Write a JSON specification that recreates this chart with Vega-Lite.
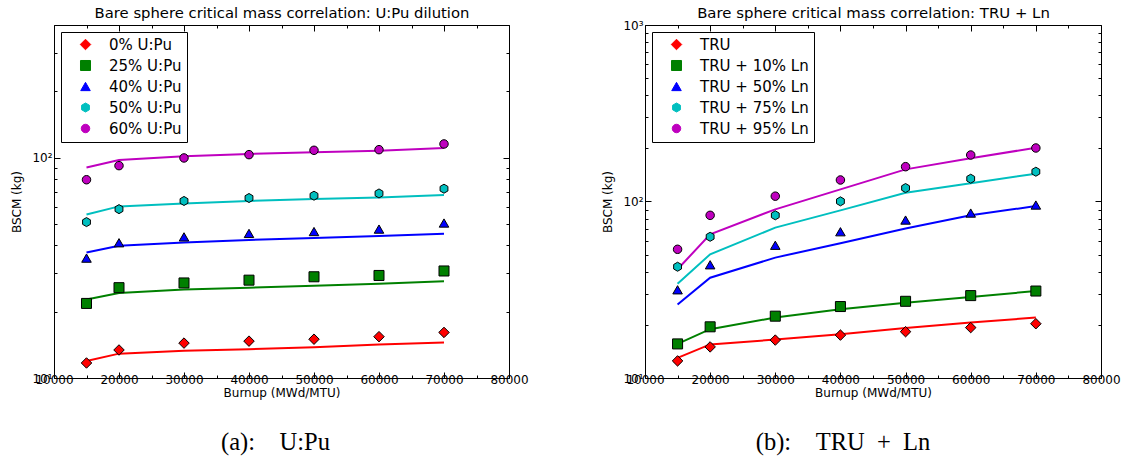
{
  "$schema": "https://vega.github.io/schema/vega-lite/v6.json",
  "background": "white",
  "padding": {"left": 10, "top": 5, "right": 5, "bottom": 5},
  "config": {
    "font": "DejaVu Sans",
    "view": {"stroke": "black", "strokeWidth": 1},
    "axis": {"domain": false, "grid": false, "tickColor": "black", "tickWidth": 1, "labelColor": "black", "titleColor": "black", "labelFont": "DejaVu Sans", "titleFont": "DejaVu Sans", "labelFontSize": 12, "titleFontSize": 12, "titleFontWeight": "normal", "labelFlush": false},
    "legend": {"symbolStrokeColor": "black", "symbolStrokeWidth": 1},
    "title": {"color": "black", "fontWeight": "normal"}
  },
  "datasets": {
    "upu": [
      {"series": "0% U:Pu", "burnup": 15000, "measured": 11.7, "fit": 11.95},
      {"series": "0% U:Pu", "burnup": 20000, "measured": 13.4, "fit": 12.9},
      {"series": "0% U:Pu", "burnup": 30000, "measured": 14.4, "fit": 13.3},
      {"series": "0% U:Pu", "burnup": 40000, "measured": 14.7, "fit": 13.5},
      {"series": "0% U:Pu", "burnup": 50000, "measured": 15.0, "fit": 13.8},
      {"series": "0% U:Pu", "burnup": 60000, "measured": 15.4, "fit": 14.2},
      {"series": "0% U:Pu", "burnup": 70000, "measured": 16.1, "fit": 14.5},
      {"series": "25% U:Pu", "burnup": 15000, "measured": 21.8, "fit": 22.7},
      {"series": "25% U:Pu", "burnup": 20000, "measured": 25.7, "fit": 24.3},
      {"series": "25% U:Pu", "burnup": 30000, "measured": 27.0, "fit": 25.2},
      {"series": "25% U:Pu", "burnup": 40000, "measured": 27.8, "fit": 25.7},
      {"series": "25% U:Pu", "burnup": 50000, "measured": 28.8, "fit": 26.2},
      {"series": "25% U:Pu", "burnup": 60000, "measured": 29.2, "fit": 26.8},
      {"series": "25% U:Pu", "burnup": 70000, "measured": 30.6, "fit": 27.5},
      {"series": "40% U:Pu", "burnup": 15000, "measured": 35.0, "fit": 37.1},
      {"series": "40% U:Pu", "burnup": 20000, "measured": 41.1, "fit": 39.8},
      {"series": "40% U:Pu", "burnup": 30000, "measured": 43.7, "fit": 41.2},
      {"series": "40% U:Pu", "burnup": 40000, "measured": 45.3, "fit": 42.3},
      {"series": "40% U:Pu", "burnup": 50000, "measured": 46.2, "fit": 43.2},
      {"series": "40% U:Pu", "burnup": 60000, "measured": 47.4, "fit": 44.1},
      {"series": "40% U:Pu", "burnup": 70000, "measured": 50.5, "fit": 45.1},
      {"series": "50% U:Pu", "burnup": 15000, "measured": 51.0, "fit": 55.2},
      {"series": "50% U:Pu", "burnup": 20000, "measured": 58.4, "fit": 60.1},
      {"series": "50% U:Pu", "burnup": 30000, "measured": 63.6, "fit": 62.0},
      {"series": "50% U:Pu", "burnup": 40000, "measured": 65.6, "fit": 63.6},
      {"series": "50% U:Pu", "burnup": 50000, "measured": 67.2, "fit": 64.9},
      {"series": "50% U:Pu", "burnup": 60000, "measured": 68.8, "fit": 66.0},
      {"series": "50% U:Pu", "burnup": 70000, "measured": 72.3, "fit": 67.7},
      {"series": "60% U:Pu", "burnup": 15000, "measured": 79.4, "fit": 90.3},
      {"series": "60% U:Pu", "burnup": 20000, "measured": 92.0, "fit": 97.6},
      {"series": "60% U:Pu", "burnup": 30000, "measured": 99.7, "fit": 101.4},
      {"series": "60% U:Pu", "burnup": 40000, "measured": 103.2, "fit": 103.9},
      {"series": "60% U:Pu", "burnup": 50000, "measured": 108.0, "fit": 105.7},
      {"series": "60% U:Pu", "burnup": 60000, "measured": 108.7, "fit": 107.6},
      {"series": "60% U:Pu", "burnup": 70000, "measured": 115.4, "fit": 110.7}
    ],
    "truln": [
      {"series": "TRU", "burnup": 15000, "measured": 12.5, "fit": 13.0},
      {"series": "TRU", "burnup": 20000, "measured": 15.0, "fit": 15.5},
      {"series": "TRU", "burnup": 30000, "measured": 16.4, "fit": 16.5},
      {"series": "TRU", "burnup": 40000, "measured": 17.5, "fit": 17.7},
      {"series": "TRU", "burnup": 50000, "measured": 18.3, "fit": 19.2},
      {"series": "TRU", "burnup": 60000, "measured": 19.3, "fit": 20.6},
      {"series": "TRU", "burnup": 70000, "measured": 20.3, "fit": 22.0},
      {"series": "TRU + 10% Ln", "burnup": 15000, "measured": 15.6, "fit": 15.6},
      {"series": "TRU + 10% Ln", "burnup": 20000, "measured": 19.5, "fit": 18.9},
      {"series": "TRU + 10% Ln", "burnup": 30000, "measured": 22.4, "fit": 22.0},
      {"series": "TRU + 10% Ln", "burnup": 40000, "measured": 25.4, "fit": 24.5},
      {"series": "TRU + 10% Ln", "burnup": 50000, "measured": 27.2, "fit": 26.7},
      {"series": "TRU + 10% Ln", "burnup": 60000, "measured": 29.3, "fit": 28.8},
      {"series": "TRU + 10% Ln", "burnup": 70000, "measured": 31.1, "fit": 31.1},
      {"series": "TRU + 50% Ln", "burnup": 15000, "measured": 31.6, "fit": 26.1},
      {"series": "TRU + 50% Ln", "burnup": 20000, "measured": 43.8, "fit": 37.0},
      {"series": "TRU + 50% Ln", "burnup": 30000, "measured": 56.5, "fit": 48.1},
      {"series": "TRU + 50% Ln", "burnup": 40000, "measured": 67.4, "fit": 58.0},
      {"series": "TRU + 50% Ln", "burnup": 50000, "measured": 78.5, "fit": 70.3},
      {"series": "TRU + 50% Ln", "burnup": 60000, "measured": 86.0, "fit": 83.5},
      {"series": "TRU + 50% Ln", "burnup": 70000, "measured": 95.5, "fit": 94.2},
      {"series": "TRU + 75% Ln", "burnup": 15000, "measured": 42.7, "fit": 34.2},
      {"series": "TRU + 75% Ln", "burnup": 20000, "measured": 63.1, "fit": 50.2},
      {"series": "TRU + 75% Ln", "burnup": 30000, "measured": 83.5, "fit": 71.1},
      {"series": "TRU + 75% Ln", "burnup": 40000, "measured": 100.2, "fit": 89.1},
      {"series": "TRU + 75% Ln", "burnup": 50000, "measured": 119.2, "fit": 112.1},
      {"series": "TRU + 75% Ln", "burnup": 60000, "measured": 134.6, "fit": 126.8},
      {"series": "TRU + 75% Ln", "burnup": 70000, "measured": 147.5, "fit": 143.8},
      {"series": "TRU + 95% Ln", "burnup": 15000, "measured": 53.6, "fit": 41.3},
      {"series": "TRU + 95% Ln", "burnup": 20000, "measured": 83.5, "fit": 65.2},
      {"series": "TRU + 95% Ln", "burnup": 30000, "measured": 107.2, "fit": 90.3},
      {"series": "TRU + 95% Ln", "burnup": 40000, "measured": 132.4, "fit": 117.2},
      {"series": "TRU + 95% Ln", "burnup": 50000, "measured": 157.5, "fit": 152.1},
      {"series": "TRU + 95% Ln", "burnup": 60000, "measured": 183.4, "fit": 175.7},
      {"series": "TRU + 95% Ln", "burnup": 70000, "measured": 201.0, "fit": 201.7}
    ]
  },
  "spacing": 72,
  "resolve": {"scale": {"color": "independent", "shape": "independent", "size": "independent", "x": "independent", "y": "independent"}, "legend": {"color": "independent", "shape": "independent", "size": "independent"}},
  "hconcat": [
    {
      "width": 455,
      "height": 353,
      "data": {"name": "upu"},
      "title": {"text": "(a):\u2003U:Pu", "orient": "bottom", "font": "Liberation Serif", "fontSize": 24.5, "anchor": "middle", "frame": "group", "offset": 33, "dx": -6},
      "resolve": {"axis": {"x": "independent", "y": "independent"}},
      "layer": [
        {
          "mark": {"type": "line", "strokeWidth": 2},
          "encoding": {
            "x": {"field": "burnup", "type": "quantitative", "scale": {"domain": [10000, 80000], "nice": false, "zero": false},
              "axis": {"orient": "bottom", "title": "Burnup (MWd/MTU)", "values": [10000, 15000, 20000, 25000, 30000, 35000, 40000, 45000, 50000, 55000, 60000, 65000, 70000, 75000, 80000], "format": "d", "labelExpr": "datum.value % 10000 === 0 ? datum.label : ''", "tickSize": {"condition": {"test": "datum.value % 10000 === 0", "value": -6}, "value": -3}, "labelPadding": 2, "titlePadding": 2}},
            "y": {"field": "fit", "type": "quantitative", "scale": {"type": "log", "domain": [10, 400], "nice": false},
              "axis": {"orient": "left", "title": "BSCM (kg)", "values": [10, 20, 30, 40, 50, 60, 70, 80, 90, 100, 200, 300, 400], "labelExpr": "datum.value === 10 ? '10¹' : datum.value === 100 ? '10²' : datum.value === 1000 ? '10³' : ''", "tickSize": {"condition": {"test": "datum.value === 10 || datum.value === 100 || datum.value === 1000", "value": -6}, "value": -3}, "labelPadding": 8, "titlePadding": 8}},
            "color": {"field": "series", "type": "nominal", "scale": {"domain": ["0% U:Pu", "25% U:Pu", "40% U:Pu", "50% U:Pu", "60% U:Pu"], "range": ["#ff0000", "#008000", "#0000ff", "#00bfbf", "#bf00bf"]}}
          }
        },
        {
          "mark": {"type": "point", "filled": true, "stroke": "black", "strokeWidth": 1, "opacity": 1},
          "encoding": {
            "x": {"field": "burnup", "type": "quantitative",
              "axis": {"orient": "top", "title": "Bare sphere critical mass correlation: U:Pu dilution", "titleFontSize": 14.8, "titlePadding": 4, "labels": false, "values": [10000, 15000, 20000, 25000, 30000, 35000, 40000, 45000, 50000, 55000, 60000, 65000, 70000, 75000, 80000], "tickSize": {"condition": {"test": "datum.value % 10000 === 0", "value": -6}, "value": -3}}},
            "y": {"field": "measured", "type": "quantitative",
              "axis": {"orient": "right", "title": null, "labels": false, "values": [10, 20, 30, 40, 50, 60, 70, 80, 90, 100, 200, 300, 400], "tickSize": {"condition": {"test": "datum.value === 10 || datum.value === 100 || datum.value === 1000", "value": -6}, "value": -3}}},
            "color": {"field": "series", "type": "nominal",
              "legend": {"title": null, "orient": "top-left", "offset": 7, "strokeColor": "black", "fillColor": "white", "padding": 5, "labelFontSize": 15, "labelColor": "black", "rowPadding": 5, "symbolOffset": 12, "labelOffset": 16, "symbolStrokeColor": "black", "symbolStrokeWidth": 1, "encode": {"symbols": {"update": {"stroke": {"value": "black"}, "strokeWidth": {"value": 1}}}}}},
            "shape": {"field": "series", "type": "nominal", "scale": {"domain": ["0% U:Pu", "25% U:Pu", "40% U:Pu", "50% U:Pu", "60% U:Pu"], "range": ["diamond", "square", "triangle-up", "M0,-1L0.866,-0.5L0.866,0.5L0,1L-0.866,0.5L-0.866,-0.5Z", "circle"]},
              "legend": {"title": null, "orient": "top-left", "offset": 7, "strokeColor": "black", "fillColor": "white", "padding": 5, "labelFontSize": 15, "labelColor": "black", "rowPadding": 5, "symbolOffset": 12, "labelOffset": 16, "symbolStrokeColor": "black", "symbolStrokeWidth": 1, "encode": {"symbols": {"update": {"stroke": {"value": "black"}, "strokeWidth": {"value": 1}}}}}},
            "size": {"field": "series", "type": "nominal", "scale": {"domain": ["0% U:Pu", "25% U:Pu", "40% U:Pu", "50% U:Pu", "60% U:Pu"], "range": [110, 72, 110, 135, 140]},
              "legend": {"title": null, "orient": "top-left", "offset": 7, "strokeColor": "black", "fillColor": "white", "padding": 5, "labelFontSize": 15, "labelColor": "black", "rowPadding": 5, "symbolOffset": 12, "labelOffset": 16, "symbolStrokeColor": "black", "symbolStrokeWidth": 1, "encode": {"symbols": {"update": {"stroke": {"value": "black"}, "strokeWidth": {"value": 1}}}}}}
          }
        }
      ]
    },
    {
      "width": 456,
      "height": 353,
      "data": {"name": "truln"},
      "title": {"text": "(b):\u2003TRU\u2002+\u2002Ln", "orient": "bottom", "font": "Liberation Serif", "fontSize": 24.5, "anchor": "middle", "frame": "group", "offset": 33, "dx": -30},
      "resolve": {"axis": {"x": "independent", "y": "independent"}},
      "layer": [
        {
          "mark": {"type": "line", "strokeWidth": 2},
          "encoding": {
            "x": {"field": "burnup", "type": "quantitative", "scale": {"domain": [10000, 80000], "nice": false, "zero": false},
              "axis": {"orient": "bottom", "title": "Burnup (MWd/MTU)", "values": [10000, 15000, 20000, 25000, 30000, 35000, 40000, 45000, 50000, 55000, 60000, 65000, 70000, 75000, 80000], "format": "d", "labelExpr": "datum.value % 10000 === 0 ? datum.label : ''", "tickSize": {"condition": {"test": "datum.value % 10000 === 0", "value": -6}, "value": -3}, "labelPadding": 2, "titlePadding": 2}},
            "y": {"field": "fit", "type": "quantitative", "scale": {"type": "log", "domain": [10, 1000], "nice": false},
              "axis": {"orient": "left", "title": "BSCM (kg)", "values": [10, 20, 30, 40, 50, 60, 70, 80, 90, 100, 200, 300, 400, 500, 600, 700, 800, 900, 1000], "labelExpr": "datum.value === 10 ? '10¹' : datum.value === 100 ? '10²' : datum.value === 1000 ? '10³' : ''", "tickSize": {"condition": {"test": "datum.value === 10 || datum.value === 100 || datum.value === 1000", "value": -6}, "value": -3}, "labelPadding": 8, "titlePadding": 8}},
            "color": {"field": "series", "type": "nominal", "scale": {"domain": ["TRU", "TRU + 10% Ln", "TRU + 50% Ln", "TRU + 75% Ln", "TRU + 95% Ln"], "range": ["#ff0000", "#008000", "#0000ff", "#00bfbf", "#bf00bf"]}}
          }
        },
        {
          "mark": {"type": "point", "filled": true, "stroke": "black", "strokeWidth": 1, "opacity": 1},
          "encoding": {
            "x": {"field": "burnup", "type": "quantitative",
              "axis": {"orient": "top", "title": "Bare sphere critical mass correlation: TRU + Ln", "titleFontSize": 14.9, "titlePadding": 4, "labels": false, "values": [10000, 15000, 20000, 25000, 30000, 35000, 40000, 45000, 50000, 55000, 60000, 65000, 70000, 75000, 80000], "tickSize": {"condition": {"test": "datum.value % 10000 === 0", "value": -6}, "value": -3}}},
            "y": {"field": "measured", "type": "quantitative",
              "axis": {"orient": "right", "title": null, "labels": false, "values": [10, 20, 30, 40, 50, 60, 70, 80, 90, 100, 200, 300, 400, 500, 600, 700, 800, 900, 1000], "tickSize": {"condition": {"test": "datum.value === 10 || datum.value === 100 || datum.value === 1000", "value": -6}, "value": -3}}},
            "color": {"field": "series", "type": "nominal",
              "legend": {"title": null, "orient": "top-left", "offset": 7, "strokeColor": "black", "fillColor": "white", "padding": 5, "labelFontSize": 15, "labelColor": "black", "rowPadding": 5, "symbolOffset": 12, "labelOffset": 16, "symbolStrokeColor": "black", "symbolStrokeWidth": 1, "encode": {"symbols": {"update": {"stroke": {"value": "black"}, "strokeWidth": {"value": 1}}}}}},
            "shape": {"field": "series", "type": "nominal", "scale": {"domain": ["TRU", "TRU + 10% Ln", "TRU + 50% Ln", "TRU + 75% Ln", "TRU + 95% Ln"], "range": ["diamond", "square", "triangle-up", "M0,-1L0.866,-0.5L0.866,0.5L0,1L-0.866,0.5L-0.866,-0.5Z", "circle"]},
              "legend": {"title": null, "orient": "top-left", "offset": 7, "strokeColor": "black", "fillColor": "white", "padding": 5, "labelFontSize": 15, "labelColor": "black", "rowPadding": 5, "symbolOffset": 12, "labelOffset": 16, "symbolStrokeColor": "black", "symbolStrokeWidth": 1, "encode": {"symbols": {"update": {"stroke": {"value": "black"}, "strokeWidth": {"value": 1}}}}}},
            "size": {"field": "series", "type": "nominal", "scale": {"domain": ["TRU", "TRU + 10% Ln", "TRU + 50% Ln", "TRU + 75% Ln", "TRU + 95% Ln"], "range": [110, 72, 110, 135, 140]},
              "legend": {"title": null, "orient": "top-left", "offset": 7, "strokeColor": "black", "fillColor": "white", "padding": 5, "labelFontSize": 15, "labelColor": "black", "rowPadding": 5, "symbolOffset": 12, "labelOffset": 16, "symbolStrokeColor": "black", "symbolStrokeWidth": 1, "encode": {"symbols": {"update": {"stroke": {"value": "black"}, "strokeWidth": {"value": 1}}}}}}
          }
        }
      ]
    }
  ]
}
